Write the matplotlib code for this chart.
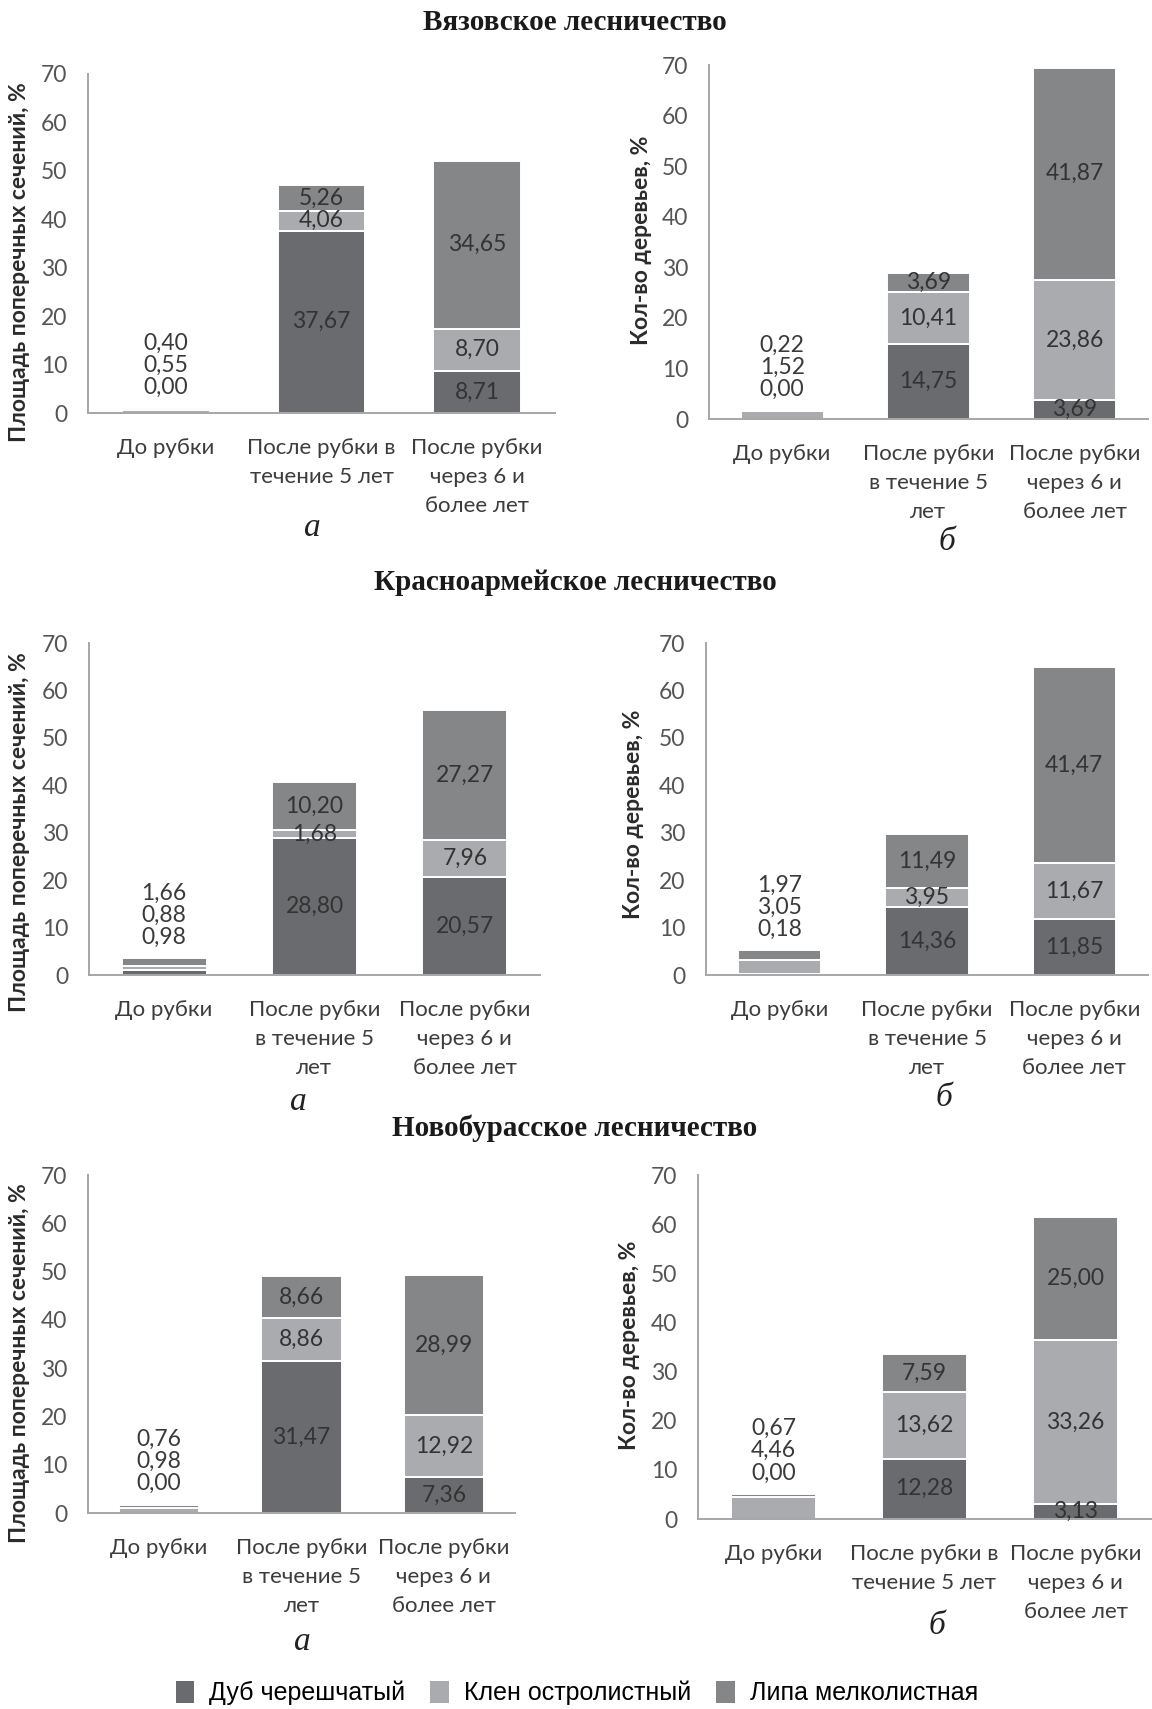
import matplotlib.pyplot as plt
from matplotlib.patches import Patch

plt.rcParams['font.family'] = ['Lato', 'DejaVu Sans']

# --- data (% values, order: До рубки, после рубки 5 лет, через 6 и более лет)
vyaz_area_dub = [0.00, 37.67, 8.71]
vyaz_area_klen = [0.55, 4.06, 8.70]
vyaz_area_lipa = [0.40, 5.26, 34.65]
vyaz_trees_dub = [0.00, 14.75, 3.69]
vyaz_trees_klen = [1.52, 10.41, 23.86]
vyaz_trees_lipa = [0.22, 3.69, 41.87]

krasn_area_dub = [0.98, 28.80, 20.57]
krasn_area_klen = [0.88, 1.68, 7.96]
krasn_area_lipa = [1.66, 10.20, 27.27]
krasn_trees_dub = [0.18, 14.36, 11.85]
krasn_trees_klen = [3.05, 3.95, 11.67]
krasn_trees_lipa = [1.97, 11.49, 41.47]

novo_area_dub = [0.00, 31.47, 7.36]
novo_area_klen = [0.98, 8.86, 12.92]
novo_area_lipa = [0.76, 8.66, 28.99]
novo_trees_dub = [0.00, 12.28, 3.13]
novo_trees_klen = [4.46, 13.62, 33.26]
novo_trees_lipa = [0.67, 7.59, 25.00]

cats_a = ['До рубки', 'После рубки в\nтечение 5 лет', 'После рубки\nчерез 6 и\nболее лет']
cats_b = ['До рубки', 'После рубки\nв течение 5\nлет', 'После рубки\nчерез 6 и\nболее лет']

species = ['Дуб черешчатый', 'Клен остролистный', 'Липа мелколистная']
forests = ['Вязовское лесничество', 'Красноармейское лесничество', 'Новобурасское лесничество']
ylab_area = 'Площадь поперечных сечений, %'
ylab_trees = 'Кол-во деревьев, %'

c_dub = '#6a6b6e'
c_klen = '#a9abae'
c_lipa = '#858688'

W, H = 1152, 1709
fig = plt.figure(figsize=(W / 100, H / 100), dpi=100)


def px_axes(left, right, top, bottom):
    return fig.add_axes([left / W, 1 - bottom / H, (right - left) / W, (bottom - top) / H])


def fmt(v):
    return ('%.2f' % v).replace('.', ',')


def draw_panel(ax, cats, dub, klen, lipa):
    x = list(range(len(cats)))
    kw = dict(width=0.565, edgecolor='white', linewidth=1.4)
    ax.bar(x, dub, color=c_dub, **kw)
    ax.bar(x, klen, bottom=dub, color=c_klen, **kw)
    b2 = [a + b for a, b in zip(dub, klen)]
    ax.bar(x, lipa, bottom=b2, color=c_lipa, **kw)
    # first bar is tiny: its labels are stacked above it
    top0 = b2[0] + lipa[0]
    for v, off in zip([dub[0], klen[0], lipa[0]], [15, 31, 47]):
        ax.annotate(fmt(v), (0, top0), xytext=(0, off), textcoords='offset points',
                    ha='center', va='center', fontsize=16.5, color='#3a3a3a')
    for i in x[1:]:
        for v, b in zip([dub[i], klen[i], lipa[i]], [0, dub[i], b2[i]]):
            ax.text(i, b + v / 2, fmt(v), ha='center', va='center', fontsize=16.5, color='#333333')
    ax.set_xlim(-0.5, 2.5)
    ax.set_ylim(0, 70)
    ax.set_yticks(range(0, 71, 10))
    ax.set_xticks(x)
    ax.set_xticklabels(cats, fontsize=16, color='#3c3c3c', linespacing=1.55)
    ax.tick_params(axis='y', length=0, pad=15, labelsize=16.5, labelcolor='#555555')
    ax.tick_params(axis='x', length=0, pad=18)
    for s in ['top', 'right']:
        ax.spines[s].set_visible(False)
    for s in ['left', 'bottom']:
        ax.spines[s].set_color('#a6a6a6')
        ax.spines[s].set_linewidth(1.4)


panels = [
    ((88, 555, 74, 413), cats_a, vyaz_area_dub, vyaz_area_klen, vyaz_area_lipa),
    ((709, 1148, 65, 419), cats_b, vyaz_trees_dub, vyaz_trees_klen, vyaz_trees_lipa),
    ((89, 540, 643, 975), cats_b, krasn_area_dub, krasn_area_klen, krasn_area_lipa),
    ((706, 1148, 643, 975), cats_b, krasn_trees_dub, krasn_trees_klen, krasn_trees_lipa),
    ((88, 515, 1175, 1513), cats_b, novo_area_dub, novo_area_klen, novo_area_lipa),
    ((698, 1151, 1175, 1519), cats_a, novo_trees_dub, novo_trees_klen, novo_trees_lipa),
]
for rect, cats, d, k, l in panels:
    draw_panel(px_axes(*rect), cats, d, k, l)

# y labels (pixel positions)
ylabels = [(20, 262, ylab_area), (641, 240, ylab_trees),
           (20, 832, ylab_area), (634, 814, ylab_trees),
           (20, 1363, ylab_area), (630, 1345, ylab_trees)]
for xp, yp, t in ylabels:
    fig.text(xp / W, 1 - yp / H, t, rotation=90, ha='center', va='center',
             fontsize=16.5, fontweight='bold', color='#2b2b2b')

# section titles
for yp, t in zip([22, 583, 1128], forests):
    fig.text(575 / W, 1 - yp / H, t, ha='center', va='center', fontsize=21,
             fontweight='bold', family=['Liberation Serif', 'DejaVu Serif'], color='#1a1a1a')

# panel letters
letters = [(312, 528, 'а'), (947, 542, 'б'), (298, 1102, 'а'), (944, 1098, 'б'),
           (302, 1642, 'а'), (937, 1626, 'б')]
for xp, yp, t in letters:
    fig.text(xp / W, 1 - yp / H, t, ha='center', va='center', fontsize=24,
             style='italic', family=['Liberation Serif', 'DejaVu Serif'], color='#222222')

handles = [Patch(facecolor=c, edgecolor='none') for c in [c_dub, c_klen, c_lipa]]
fig.legend(handles, species, loc='center', bbox_to_anchor=(577 / W, 1 - 1693 / H), ncol=3,
           frameon=False, handlelength=0.75, handleheight=1.0, handletextpad=0.6,
           columnspacing=1.0, prop={'family': 'Liberation Sans', 'size': 18})

fig.savefig('out.png', dpi=100, facecolor='white')
